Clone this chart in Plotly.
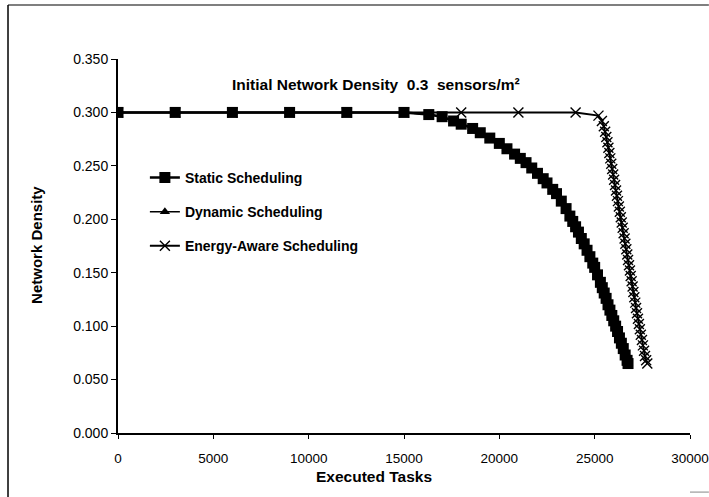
import plotly.graph_objects as go

# Network density vs executed tasks for three scheduling policies
static_tasks = [0, 3000, 6000, 9000, 12000, 15000, 16300, 17000, 17600, 18000, 18600,
                19000, 19500, 20000, 20400, 20800, 21100, 21400, 21700, 22000, 22300,
                22500, 22800, 23000, 23250, 23500, 23700, 23850, 24000, 24150, 24300,
                24450, 24600, 24750, 24900, 25000, 25150, 25300, 25400, 25500, 25600,
                25700, 25800, 25900, 26000, 26100, 26200, 26300, 26400, 26500, 26600,
                26700, 26750]
static_density = [0.300, 0.300, 0.300, 0.300, 0.300, 0.300, 0.298, 0.296, 0.292, 0.289, 0.285,
                  0.281, 0.276, 0.271, 0.266, 0.261, 0.257, 0.253, 0.248, 0.243, 0.238,
                  0.234, 0.228, 0.224, 0.217, 0.210, 0.203, 0.198, 0.193, 0.188, 0.182,
                  0.177, 0.171, 0.165, 0.159, 0.155, 0.148, 0.141, 0.136, 0.131, 0.126,
                  0.120, 0.115, 0.110, 0.105, 0.100, 0.095, 0.089, 0.084, 0.079, 0.073,
                  0.068, 0.065]

dynamic_tasks = [0, 3000, 6000, 9000, 12000, 15000, 16300, 17000, 17600, 18000, 18600,
                 19000, 19500, 20000, 20400, 20800, 21100, 21400, 21700, 22000, 22300,
                 22500, 22800, 23000, 23250, 23500, 23700, 23850, 24000, 24150, 24300,
                 24450, 24600, 24750, 24900, 25000, 25150, 25300, 25400, 25500, 25600,
                 25700, 25800, 25900, 26000, 26100, 26200, 26300, 26400, 26500, 26600,
                 26700, 26750]
dynamic_density = [0.300, 0.300, 0.300, 0.300, 0.300, 0.300, 0.298, 0.296, 0.292, 0.289, 0.285,
                   0.281, 0.276, 0.271, 0.266, 0.261, 0.257, 0.253, 0.248, 0.243, 0.238,
                   0.234, 0.228, 0.224, 0.217, 0.210, 0.203, 0.198, 0.193, 0.188, 0.182,
                   0.177, 0.171, 0.165, 0.159, 0.155, 0.148, 0.141, 0.136, 0.131, 0.126,
                   0.120, 0.115, 0.110, 0.105, 0.100, 0.095, 0.089, 0.084, 0.079, 0.073,
                   0.068, 0.065]

energy_tasks = [0, 3000, 6000, 9000, 12000, 15000, 18000, 21000, 24000, 25200, 25380,
                25480, 25550, 25610, 25670, 25720, 25770, 25820, 25870, 25920, 25970,
                26020, 26070, 26120, 26170, 26220, 26270, 26320, 26370, 26420, 26470,
                26520, 26570, 26610, 26660, 26710, 26750, 26800, 26850, 26890, 26940,
                26990, 27030, 27080, 27130, 27170, 27220, 27270, 27320, 27370, 27420,
                27480, 27530, 27590, 27640, 27700, 27760]
energy_density = [0.300, 0.300, 0.300, 0.300, 0.300, 0.300, 0.300, 0.300, 0.300, 0.297, 0.292,
                  0.287, 0.282, 0.277, 0.272, 0.267, 0.262, 0.257, 0.252, 0.247, 0.242,
                  0.237, 0.232, 0.227, 0.222, 0.217, 0.212, 0.207, 0.202, 0.197, 0.192,
                  0.187, 0.182, 0.177, 0.172, 0.167, 0.162, 0.157, 0.152, 0.147, 0.142,
                  0.137, 0.132, 0.127, 0.122, 0.117, 0.112, 0.107, 0.102, 0.097, 0.092,
                  0.087, 0.082, 0.077, 0.072, 0.068, 0.065]

x_ticks = [0, 5000, 10000, 15000, 20000, 25000, 30000]
y_ticks = [0.0, 0.05, 0.10, 0.15, 0.20, 0.25, 0.30, 0.35]
y_tick_text = ["0.000", "0.050", "0.100", "0.150", "0.200", "0.250", "0.300", "0.350"]

FONT = "Liberation Sans"

fig = go.Figure()
fig.add_trace(go.Scatter(
    x=static_tasks, y=static_density, name="Static Scheduling", mode="lines+markers",
    line=dict(color="black", width=2.5),
    marker=dict(symbol="square", size=11, color="black"),
    legendgroup="s"))
fig.add_trace(go.Scatter(
    x=dynamic_tasks, y=dynamic_density, name="Dynamic Scheduling", mode="lines+markers",
    line=dict(color="black", width=1.5),
    marker=dict(symbol="triangle-up", size=9, color="black"),
    legendgroup="d"))
fig.add_trace(go.Scatter(
    x=energy_tasks, y=energy_density, name="Energy-Aware Scheduling", mode="lines+markers",
    line=dict(color="black", width=2),
    marker=dict(symbol="x-thin", size=10, line=dict(color="black", width=1.4)),
    legendgroup="e"))

fig.update_layout(
    width=709, height=497,
    margin=dict(l=118, r=19, t=59, b=64, autoexpand=False),
    paper_bgcolor="white", plot_bgcolor="white",
    font=dict(family=FONT, color="black", size=13),
    showlegend=True,
    legend=dict(x=0.047, y=0.725, xanchor="left", yanchor="top",
                bgcolor="rgba(0,0,0,0)", tracegroupgap=13,
                font=dict(family=FONT, size=14, color="black", weight="bold")),
    xaxis=dict(range=[0, 30000], tickvals=x_ticks, ticktext=[str(v) for v in x_ticks],
               showgrid=False, zeroline=False, showline=True, linecolor="black",
               linewidth=1.5, ticks="outside", ticklen=4, tickcolor="black",
               ticklabelstandoff=8, tickfont=dict(size=13.5), automargin=False,
               fixedrange=True),
    yaxis=dict(range=[0, 0.35], tickvals=y_ticks, ticktext=y_tick_text,
               showgrid=False, zeroline=False, showline=True, linecolor="black",
               linewidth=2, ticks="outside", ticklen=5, tickcolor="black",
               tickfont=dict(size=14), automargin=False, fixedrange=True),
    annotations=[
        dict(text="Initial Network Density\u00a0\u00a00.3\u00a0\u00a0sensors/m\u00b2",
             xref="paper", yref="paper", x=0.451, y=0.933, xanchor="center",
             yanchor="middle", showarrow=False, font=dict(size=15.5, weight="bold")),
        dict(text="Executed Tasks", xref="paper", yref="paper", x=0.4476, y=-0.115,
             xanchor="center", yanchor="middle", showarrow=False,
             font=dict(size=15.5, weight="bold")),
        dict(text="Network Density", xref="paper", yref="paper", x=-0.1416, y=0.503,
             xanchor="center", yanchor="middle", textangle=-90, showarrow=False,
             font=dict(size=15, weight="bold")),
    ],
    shapes=[
        dict(type="line", xref="paper", yref="paper", x0=-0.1923, x1=-0.1923,
             y0=1.1444, y1=-0.171, line=dict(color="black", width=1.5)),
        dict(type="line", xref="paper", yref="paper", x0=-0.1923, x1=1.033,
             y0=1.1444, y1=1.1444, line=dict(color="black", width=1.2)),
        dict(type="line", xref="paper", yref="paper", x0=1.0, x1=1.033,
             y0=-0.158, y1=-0.158, line=dict(color="#9a9a9a", width=1.2)),
    ],
)

fig.write_html("out.html")
